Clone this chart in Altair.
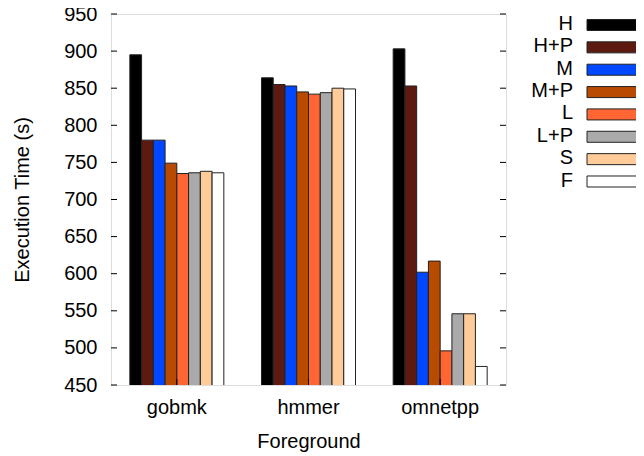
import altair as alt
import pandas as pd

benchmarks = ["gobmk", "hmmer", "omnetpp"]
series = ["H", "H+P", "M", "M+P", "L", "L+P", "S", "F"]
colors = ["#000000", "#5c1a10", "#0047ff", "#b84a02", "#ff6633", "#aaaaaa", "#ffcc99", "#ffffff"]
gobmk = [895, 780, 780, 749, 735, 736, 738, 736]
hmmer = [864, 855, 853, 845, 842, 844, 850, 849]
omnetpp = [903, 853, 602, 617, 496, 546, 546, 475]
y_ticks = [450, 500, 550, 600, 650, 700, 750, 800, 850, 900, 950]

rows = []
for b, vals in zip(benchmarks, [gobmk, hmmer, omnetpp]):
    for s, v in zip(series, vals):
        rows.append({"bench": b, "series": s, "value": v})
df = pd.DataFrame(rows)
ticks_df = pd.DataFrame({"v": y_ticks})
bench_df = pd.DataFrame({"bench": benchmarks})
legend_df = pd.DataFrame({"series": series})

W, H = 395, 371
FONT = "Liberation Sans"
FS = 20
yscale = alt.Scale(domain=[450, 950], nice=False, zero=False)
xscale = alt.Scale(domain=benchmarks, paddingInner=0.286, paddingOuter=0.143)
cscale = alt.Scale(domain=series, range=colors)

bars = alt.Chart(df).mark_bar(stroke="#222222", strokeWidth=1, clip=True).encode(
    x=alt.X("bench:N", scale=xscale, sort=benchmarks,
            axis=alt.Axis(title="Foreground", labelAngle=0, ticks=False, tickSize=0, domain=False,
                          labelFontSize=FS, labelFont=FONT, labelColor="black",
                          labelBaseline="alphabetic", labelPadding=28,
                          titleFontSize=FS, titleFont=FONT, titleFontWeight="normal", titleColor="black",
                          titleBaseline="alphabetic", titleY=62, titleX=W / 2)),
    xOffset=alt.XOffset("series:N", sort=series, scale=alt.Scale(domain=series, paddingInner=0, paddingOuter=0)),
    y=alt.Y("value:Q", scale=yscale,
            axis=alt.Axis(values=y_ticks, ticks=False, tickSize=0, domain=False, grid=False,
                          labelFontSize=FS, labelFont=FONT, labelColor="black", labelPadding=14,
                          title="Execution Time (s)", titleFontSize=FS, titleFont=FONT,
                          titleFontWeight="normal", titleColor="black",
                          titleX=-89, titleY=H / 2, titleAngle=-90, titleBaseline="middle",
                          titleAlign="center")),
    color=alt.Color("series:N", scale=cscale, legend=None),
)

left_ticks = alt.Chart(ticks_df).mark_rule(color="black", strokeWidth=1).encode(
    y=alt.Y("v:Q", scale=yscale, axis=None), x=alt.value(0), x2=alt.value(6))
right_ticks = alt.Chart(ticks_df).mark_rule(color="black", strokeWidth=1).encode(
    y=alt.Y("v:Q", scale=yscale, axis=None), x=alt.value(W - 6), x2=alt.value(W))
bottom_ticks = alt.Chart(bench_df).mark_rule(color="black", strokeWidth=1).encode(
    x=alt.X("bench:N", scale=xscale, sort=benchmarks), y=alt.value(H - 6), y2=alt.value(H))

lscale = alt.Scale(domain=series, range=[11, 167.5], padding=0)
shape = "M-1,-0.19L1,-0.19L1,0.19L-1,0.19Z"
leg_sym = alt.Chart(legend_df).mark_point(shape=shape, filled=True, size=58 * 58, opacity=1,
                                          stroke="#222222", strokeWidth=1).encode(
    x=alt.value(616 - 111),
    y=alt.Y("series:N", scale=lscale, axis=None, sort=series),
    color=alt.Color("series:N", scale=cscale, legend=None),
)
leg_txt = alt.Chart(legend_df).mark_text(align="right", baseline="middle", font=FONT, fontSize=FS,
                                         color="black", dy=-1).encode(
    x=alt.value(573 - 111),
    y=alt.Y("series:N", scale=lscale, axis=None, sort=series),
    text="series:N",
)

chart = alt.layer(bars, left_ticks, right_ticks, bottom_ticks, leg_sym, leg_txt).resolve_scale(
    y="independent"
).properties(
    width=W, height=H,
    autosize=alt.AutoSizeParams(type="none"),
    padding={"left": 103, "top": 6, "right": 130, "bottom": 68},
).configure_view(stroke="black", strokeWidth=1).configure(background="white")

chart.save("out.html", embed_options={"renderer": "svg", "actions": False})
